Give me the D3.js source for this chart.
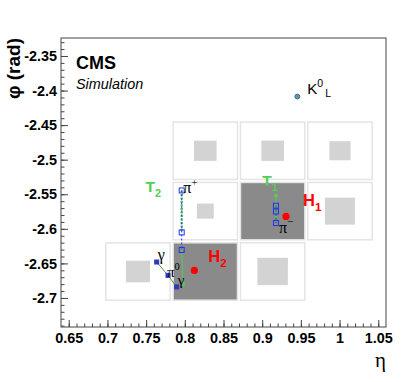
<!DOCTYPE html>
<html>
<head>
<meta charset="utf-8">
<script src="https://cdn.jsdelivr.net/npm/d3@7"></script>
<style>
  body { margin: 0; background: #fff; }
  svg { display: block; }
</style>
</head>
<body>
<div id="container"></div>
<script>
/* CONSTANTS AND GLOBALS */
const width = 407,
  height = 382,
  margin = {top: 38, bottom: 55, left: 61, right: 21};

// tick labels
const xTicks = [0.65, 0.7, 0.75, 0.8, 0.85, 0.9, 0.95, 1, 1.05];
const yTicks = [-2.35, -2.4, -2.45, -2.5, -2.55, -2.6, -2.65, -2.7];

// calorimeter towers (centres in eta / phi), ecal box fraction, hcal flag
const towerSize = [0.087, 0.0873];
const cellEta = [0.8265, 0.9135, 1.0005, 0.8265, 0.9135, 1.0005, 0.7395, 0.8265, 0.9135];
const cellPhi = [-2.4871, -2.4871, -2.4871, -2.5744, -2.5744, -2.5744, -2.6617, -2.6617, -2.6617];
const ecalFrac = [0.335, 0.336, 0.315, 0.25, 0, 0.447, 0.358, 0, 0.453];
const hcalHit = [false, false, false, false, true, false, false, true, false];

// tracks: blue squares are track points
const piPlusEta = [0.796, 0.796, 0.796];
const piPlusPhi = [-2.5445, -2.6052, -2.6306];
const piPlusEnd = [0.7977, -2.680];
const piMinusEta = [0.9178, 0.9178, 0.9178];
const piMinusPhi = [-2.5666, -2.5749, -2.5916];
const piMinusStart = [0.9178, -2.552];

// photons and pi0
const photonEta = [0.7637, 0.7783, 0.7895];
const photonPhi = [-2.648, -2.6673, -2.684];

// hcal clusters and neutral hadron
const clusterEta = [0.9308, 0.8123];
const clusterPhi = [-2.5821, -2.6601];
const k0Eta = 0.9454, k0Phi = -2.4087;

/* INITIALIZING */
const svg = d3.select("#container").append("svg")
  .attr("width", width)
  .attr("height", height);

const xScale = d3.scaleLinear()
  .domain([0.64, 1.06])
  .range([margin.left, width - margin.right]);

const yScale = d3.scaleLinear()
  .domain([-2.742, -2.324])
  .range([height - margin.bottom, margin.top]);

const green = "#55cc55";

// + CELLS
const cells = cellEta.map((e, i) => ({eta: e, phi: cellPhi[i], frac: ecalFrac[i], hcal: hcalHit[i]}));
const cw = xScale(towerSize[0]) - xScale(0);
const ch = yScale(0) - yScale(towerSize[1]);

svg.selectAll("rect.cell")
  .data(cells)
  .join("rect")
  .attr("class", "cell")
  .attr("x", d => xScale(d.eta) - cw / 2 + 1.5)
  .attr("y", d => yScale(d.phi) - ch / 2 + 1.5)
  .attr("width", cw - 3)
  .attr("height", ch - 3)
  .attr("fill", d => d.hcal ? "#8a8a8a" : "#fff")
  .attr("stroke", "#e4e4e4")
  .attr("stroke-width", 1.5);

svg.selectAll("rect.ecal")
  .data(cells.filter(d => d.frac > 0))
  .join("rect")
  .attr("class", "ecal")
  .attr("x", d => xScale(d.eta) - cw * d.frac / 2)
  .attr("y", d => yScale(d.phi) - ch * d.frac / 2)
  .attr("width", d => cw * d.frac)
  .attr("height", d => ch * d.frac)
  .attr("fill", "#d3d3d3");

// + AXES
const xAxis = d3.axisBottom(xScale).tickValues(xTicks).tickSize(-7).tickPadding(5.5).tickFormat(d => String(d));
const yAxis = d3.axisLeft(yScale).tickValues(yTicks).tickSize(-7).tickPadding(4).tickFormat(d => String(d));
const xMinor = d3.axisBottom(xScale).tickValues(d3.range(65, 106).map(d => d / 100)).tickSize(-3.5).tickFormat("");
const yMinor = d3.axisLeft(yScale).tickValues(d3.range(-274, -232).map(d => d / 100)).tickSize(-3.5).tickFormat("");

function styleAxis(g) {
  g.select(".domain").remove();
  g.selectAll("line").attr("stroke", "#444");
  g.selectAll("text")
    .attr("fill", "#000")
    .attr("font-family", "Liberation Sans, Arial, sans-serif")
    .attr("font-weight", "bold")
    .attr("font-size", "14.4px");
}

svg.append("g").attr("transform", `translate(0,${height - margin.bottom})`).call(xMinor).call(styleAxis);
svg.append("g").attr("transform", `translate(${margin.left},0)`).call(yMinor).call(styleAxis);
svg.append("g").attr("transform", `translate(0,${height - margin.bottom})`).call(xAxis).call(styleAxis);
svg.append("g").attr("transform", `translate(${margin.left},0)`).call(yAxis).call(styleAxis);

svg.append("rect")
  .attr("x", margin.left)
  .attr("y", margin.top)
  .attr("width", width - margin.left - margin.right)
  .attr("height", height - margin.top - margin.bottom)
  .attr("fill", "none")
  .attr("stroke", "#444")
  .attr("stroke-width", 1);

// axis titles
svg.append("text")
  .attr("transform", `translate(20,${margin.top}) rotate(-90)`)
  .attr("text-anchor", "end")
  .attr("font-family", "Liberation Sans, Arial, sans-serif")
  .attr("font-weight", "bold")
  .attr("font-size", "19px")
  .text("φ (rad)");

svg.append("text")
  .attr("x", width - margin.right)
  .attr("y", 367)
  .attr("text-anchor", "end")
  .attr("font-family", "Liberation Serif, serif")
  .attr("font-size", "21px")
  .text("η");

svg.append("text")
  .attr("x", 76).attr("y", 69)
  .attr("font-family", "Liberation Sans, Arial, sans-serif")
  .attr("font-weight", "bold")
  .attr("font-size", "18px")
  .text("CMS");

svg.append("text")
  .attr("x", 76).attr("y", 89)
  .attr("font-family", "Liberation Sans, Arial, sans-serif")
  .attr("font-style", "italic")
  .attr("font-size", "14.4px")
  .text("Simulation");

// + TRACKS
const line = d3.line().x(d => xScale(d[0])).y(d => yScale(d[1]));
const plusPts = piPlusEta.map((e, i) => [e, piPlusPhi[i]]);
const minusPts = piMinusEta.map((e, i) => [e, piMinusPhi[i]]);
const photonPts = photonEta.map((e, i) => [e, photonPhi[i]]);

// green trajectory pieces
svg.append("path").datum([plusPts[2], piPlusEnd])
  .attr("d", line).attr("stroke", green).attr("stroke-width", 1).attr("fill", "none");
svg.append("path").datum([plusPts[0], plusPts[1]])
  .attr("d", line).attr("stroke", green).attr("stroke-width", 2.5)
  .attr("stroke-dasharray", "2,1.5").attr("fill", "none");
svg.append("path").datum([piMinusStart, minusPts[0]])
  .attr("d", line).attr("stroke", green).attr("stroke-width", 1).attr("fill", "none");
svg.append("path").datum(minusPts)
  .attr("d", line).attr("stroke", green).attr("stroke-width", 2.5)
  .attr("stroke-dasharray", "2,1.5").attr("fill", "none");

// blue dashed track lines
[plusPts, minusPts].forEach(pts => {
  svg.append("path").datum(pts)
    .attr("d", line).attr("stroke", "#2233ee").attr("stroke-width", 1)
    .attr("stroke-dasharray", "2,2").attr("fill", "none");
});

// photon line
svg.append("path").datum(photonPts)
  .attr("d", line).attr("stroke", "#4f8f4f").attr("stroke-width", 1).attr("fill", "none");

// green end points
svg.selectAll("circle.end")
  .data([piPlusEnd, piMinusStart])
  .join("circle")
  .attr("class", "end")
  .attr("cx", d => xScale(d[0]))
  .attr("cy", d => yScale(d[1]))
  .attr("r", 2)
  .attr("fill", green);

// blue squares
svg.selectAll("rect.pt")
  .data(plusPts.concat(minusPts))
  .join("rect")
  .attr("class", "pt")
  .attr("x", d => xScale(d[0]) - 2.5)
  .attr("y", d => yScale(d[1]) - 2.5)
  .attr("width", 5).attr("height", 5)
  .attr("fill", "none")
  .attr("stroke", "#2233ee")
  .attr("stroke-width", 1);

svg.selectAll("rect.ph")
  .data(photonPts)
  .join("rect")
  .attr("class", "ph")
  .attr("x", d => xScale(d[0]) - 2)
  .attr("y", d => yScale(d[1]) - 2)
  .attr("width", 4).attr("height", 4)
  .attr("fill", "#334477")
  .attr("stroke", "#2233ee")
  .attr("stroke-width", 1);

// hcal clusters
svg.selectAll("circle.cl")
  .data(clusterEta.map((e, i) => [e, clusterPhi[i]]))
  .join("circle")
  .attr("class", "cl")
  .attr("cx", d => xScale(d[0]))
  .attr("cy", d => yScale(d[1]))
  .attr("r", 3.6)
  .attr("fill", "#ff0000");

// K0L
svg.append("circle")
  .attr("cx", xScale(k0Eta)).attr("cy", yScale(k0Phi))
  .attr("r", 2.4)
  .attr("fill", "#55aa66")
  .attr("stroke", "#4455cc")
  .attr("stroke-width", 1);

// + LABELS
function label(x, y, main, sub, sup, opts) {
  const t = svg.append("text")
    .attr("x", x).attr("y", y)
    .attr("font-family", opts.family)
    .attr("font-size", opts.size + "px")
    .attr("font-weight", opts.weight || "normal")
    .attr("fill", opts.color || "#000");
  t.append("tspan").text(main);
  if (sup) t.append("tspan").attr("font-size", opts.size * 0.7 + "px").attr("dy", -opts.size * 0.45).text(sup);
  if (sub) t.append("tspan").attr("font-size", opts.size * 0.7 + "px")
    .attr("dx", sup ? 2 : 0)
    .attr("dy", sup ? opts.size * 0.65 : opts.size * 0.3).text(sub);
}

const greek = {family: "Liberation Serif, serif", size: 16};
const sans = {family: "Liberation Sans, Arial, sans-serif", size: 15};

label(xScale(piPlusEta[0]) + 1.5, yScale(piPlusPhi[0]) + 2.5, "π", null, "+", greek);
label(xScale(piMinusEta[2]) + 3, yScale(piMinusPhi[2]) + 9.5, "π", null, "−", greek);
label(xScale(photonEta[0]) + 1, yScale(photonPhi[0]) - 2, "γ", null, null, greek);
label(xScale(photonEta[1]) - 1, yScale(photonPhi[1]) + 1.5, "π", null, "0", {family: greek.family, size: 15});
label(xScale(photonEta[2]) + 1, yScale(photonPhi[2]) - 2, "γ", null, null, {family: greek.family, size: 15});
label(xScale(k0Eta) + 10, yScale(k0Phi) - 3, "K", "L", "0", sans);

label(145.5, 192.3, "T", "2", null, {family: sans.family, size: 15.5, weight: "bold", color: green});
label(262.3, 186, "T", "1", null, {family: sans.family, size: 15.5, weight: "bold", color: green});
label(xScale(clusterEta[0]) + 17, yScale(clusterPhi[0]) - 10, "H", "1", null, {family: sans.family, size: 16.5, weight: "bold", color: "#ff0000"});
label(xScale(clusterEta[1]) + 14, yScale(clusterPhi[1]) - 8.5, "H", "2", null, {family: sans.family, size: 16.5, weight: "bold", color: "#ff0000"});
</script>
</body>
</html>
